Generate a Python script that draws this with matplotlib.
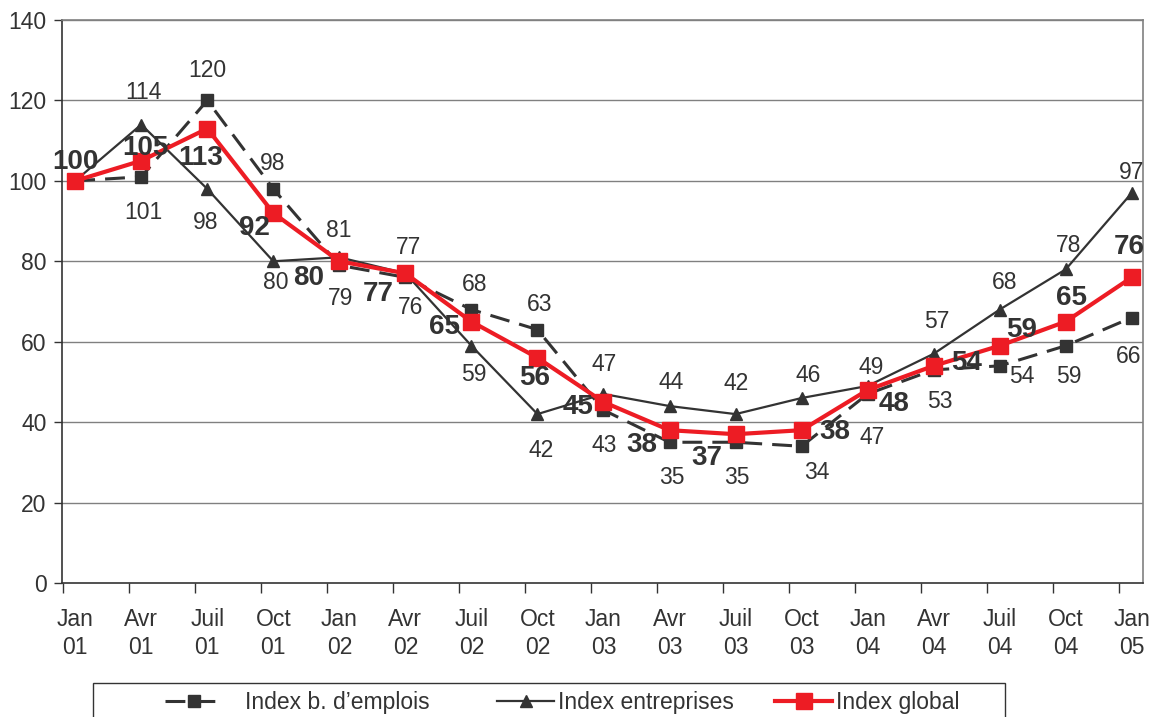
import matplotlib
matplotlib.use("Agg")
import matplotlib.pyplot as plt
from matplotlib.patches import Rectangle

plt.rcParams['font.family'] = ['Liberation Sans', 'DejaVu Sans']

# ---- data ----
months = ["Jan", "Avr", "Juil", "Oct"] * 4 + ["Jan"]
years = ["01"] * 4 + ["02"] * 4 + ["03"] * 4 + ["04"] * 4 + ["05"]
tick_labels = [f"{m}\n{y}" for m, y in zip(months, years)]

emplois = [100, 101, 120, 98, 79, 76, 68, 63, 43, 35, 35, 34, 47, 53, 54, 59, 66]
entreprises = [100, 114, 98, 80, 81, 77, 59, 42, 47, 44, 42, 46, 49, 57, 68, 78, 97]
global_idx = [100, 105, 113, 92, 80, 77, 65, 56, 45, 38, 37, 38, 48, 54, 59, 65, 76]

# ---- label offsets (pixels; style only) ----
off_global = [(0, 19), (4, 13), (-7, -29), (-19, -15), (-31, -17), (-27, -21), (-27, -5),
              (-3, -20), (-25, -5), (-28, -15), (-29, -24), (33, -2), (26, -14),
              (33, 3), (22, 16), (6, 24), (-3, 30)]
off_empl = [None, (2, -36), (0, 30), (-1, 25), (1, -33), (5, -30), (3, 25), (2, 25),
            (1, -35), (2, -35), (1, -35), (15, -26), (4, -44), (6, -32), (22, -11),
            (3, -31), (-3, -39)]
off_entr = [None, (2, 32), (-2, -34), (2, -21), (-1, 27), (3, 26), (2, -29), (4, -36),
            (1, 29), (2, 24), (1, 31), (7, 23), (4, 18), (3, 32), (5, 27), (3, 24), (0, 20)]

DARK = "#333333"
RED = "#ED1C24"
GRID = "#808080"
FS = 16.5

fig = plt.figure(figsize=(11.58, 7.17), dpi=100)
ax = fig.add_axes([62 / 1158, 1 - 583 / 717, (1143 - 62) / 1158, (583 - 20) / 717])

x = list(range(len(global_idx)))

l_entr, = ax.plot(x, entreprises, color=DARK, lw=1.6, marker="^", ms=8,
                  markeredgecolor=DARK, markerfacecolor=DARK, zorder=3,
                  label="Index entreprises")
l_empl, = ax.plot(x, emplois, color=DARK, lw=2.2, linestyle=(0, (6.5, 3.3)),
                  marker="s", ms=8, markeredgecolor=DARK, markerfacecolor=DARK,
                  zorder=4, label="Index b. d\u2019emplois")
l_glob, = ax.plot(x, global_idx, color=RED, lw=3.0, marker="s", ms=12,
                  markeredgecolor=RED, markerfacecolor=RED, zorder=5,
                  label="Index global")

for i, v in enumerate(global_idx):
    dx, dy = off_global[i]
    ax.annotate(str(v), (i, v), xytext=(dx, dy), textcoords="offset pixels",
                ha="center", va="center", fontsize=20, fontweight="bold",
                color=DARK, zorder=10)
for vals, offs in ((emplois, off_empl), (entreprises, off_entr)):
    for i, v in enumerate(vals):
        if offs[i] is None:
            continue
        dx, dy = offs[i]
        ax.annotate(str(v), (i, v), xytext=(dx, dy), textcoords="offset pixels",
                    ha="center", va="center", fontsize=FS, color=DARK, zorder=10)

ax.set_xlim(-0.2, 16.17)
ax.set_ylim(0, 140)
ax.set_yticks(range(0, 141, 20))
ax.tick_params(axis="y", labelsize=FS, colors=DARK, length=6, width=1, direction="out", pad=5)
ax.set_xticks(x)
ax.set_xticklabels(tick_labels, fontsize=FS, color=DARK, linespacing=1.25)
ax.tick_params(axis="x", which="major", length=0, pad=18)
ax.set_xticks([i - 0.19 for i in x], minor=True)
ax.tick_params(axis="x", which="minor", length=7, width=1, color=DARK, direction="out")

for yv in range(20, 141, 20):
    ax.axhline(yv, color=GRID, lw=1.0, zorder=1)

ax.spines["left"].set_color(DARK)
ax.spines["bottom"].set_color(DARK)
ax.spines["top"].set_color(GRID)
ax.spines["right"].set_color(GRID)
for s in ax.spines.values():
    s.set_linewidth(1.2)

# legend frame
fig.patches.append(Rectangle((93 / 1158, -0.05), (1005 - 93) / 1158, 0.05 + 1 - 683 / 717,
                             transform=fig.transFigure, fill=False, edgecolor=DARK,
                             lw=1.0))
ly = 1 - 703 / 717
specs = [(l_empl, 165, 1.0), (l_entr, 497, 0.15), (l_glob, 775, 0.15)]
for h, xs, pad in specs:
    fig.legend(handles=[h], loc="center left", bbox_to_anchor=(xs / 1158, ly),
               frameon=False, fontsize=FS, handlelength=2.5, handletextpad=pad,
               borderpad=0, borderaxespad=0, labelcolor=DARK)

fig.savefig("out.png", dpi=100)
